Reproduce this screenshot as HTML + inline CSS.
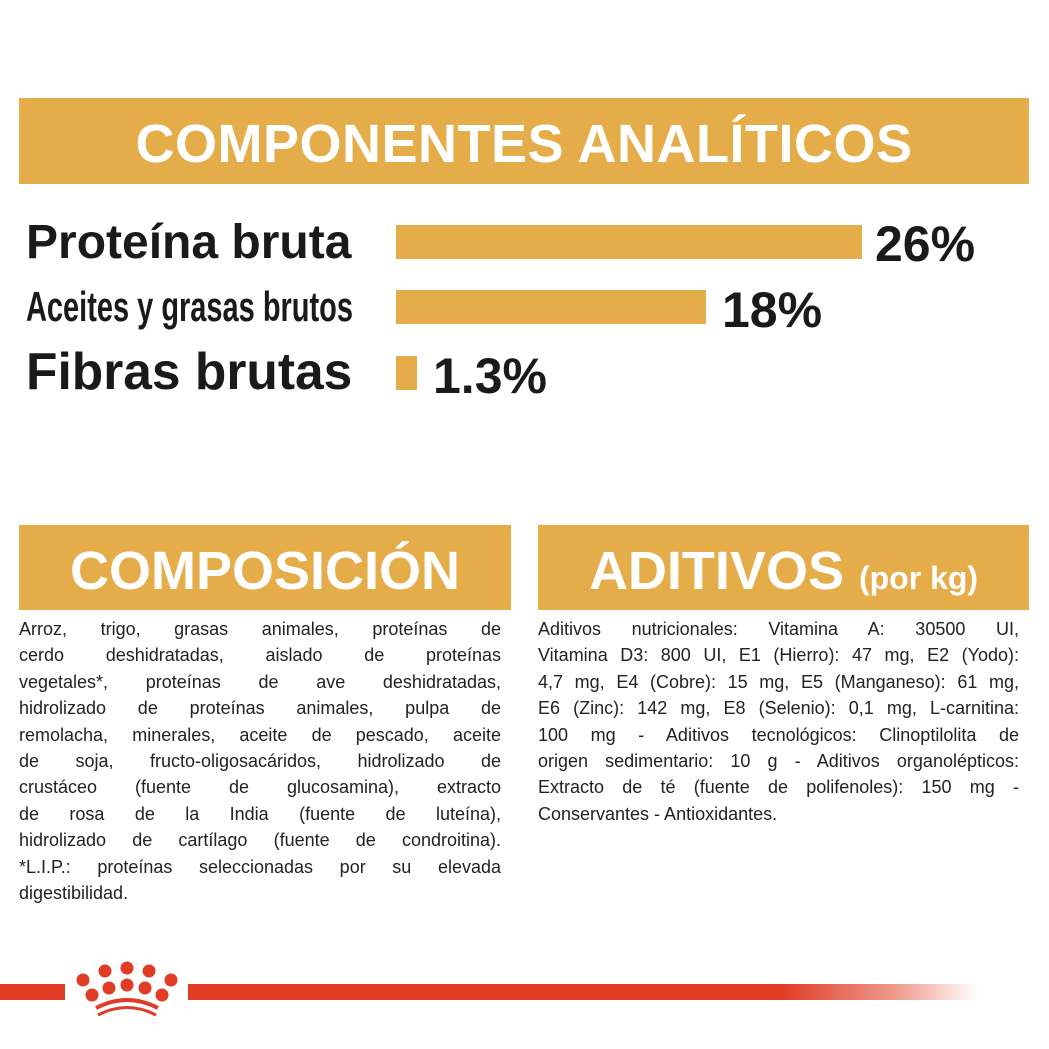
<!DOCTYPE html>
<html><head><meta charset="utf-8"><style>
body{margin:0;width:1049px;height:1049px;background:#fff;position:relative;overflow:hidden;font-family:"Liberation Sans",sans-serif;}
.a{position:absolute}
.hdr{background:#E5AD4A;color:#fff;font-weight:bold;text-align:center;}
.bar{background:#E5AD4A;position:absolute}
.lbl{position:absolute;font-weight:bold;color:#1a1a1a;white-space:nowrap;line-height:1}
.txt{position:absolute;font-size:18px;color:#222;line-height:26.4px}
.txt div{text-align:justify;text-align-last:justify;white-space:nowrap}
.txt div.l{text-align-last:left}
</style></head><body>
<div class="a hdr" style="left:19px;top:98px;width:1010px;height:86px;font-size:54px;line-height:92px;letter-spacing:0.5px">COMPONENTES ANALÍTICOS</div>
<div class="lbl" style="left:26px;top:219px;font-size:48px">Proteína bruta</div>
<div class="bar" style="left:396px;top:225px;width:466px;height:34px"></div>
<div class="lbl" style="left:875px;top:219px;font-size:50px">26%</div>
<div class="lbl" style="left:26px;top:286px;font-size:42px;transform:scaleX(0.69);transform-origin:left">Aceites y grasas brutos</div>
<div class="bar" style="left:396px;top:290px;width:310px;height:34px"></div>
<div class="lbl" style="left:722px;top:285px;font-size:50px">18%</div>
<div class="lbl" style="left:26px;top:346px;font-size:51.5px">Fibras brutas</div>
<div class="bar" style="left:396px;top:356px;width:21px;height:34px"></div>
<div class="lbl" style="left:433px;top:351px;font-size:50px">1.3%</div>

<div class="a hdr" style="left:19px;top:525px;width:492px;height:85px;font-size:54px;line-height:92px">COMPOSICIÓN</div>
<div class="a hdr" style="left:538px;top:525px;width:491px;height:85px;font-size:54px;line-height:92px">ADITIVOS <span style="font-size:32px">(por kg)</span></div>

<div class="txt" style="left:19px;top:616px;width:482px">
<div>Arroz, trigo, grasas animales, proteínas de</div>
<div>cerdo deshidratadas, aislado de proteínas</div>
<div>vegetales*, proteínas de ave deshidratadas,</div>
<div>hidrolizado de proteínas animales, pulpa de</div>
<div>remolacha, minerales, aceite de pescado, aceite</div>
<div>de soja, fructo-oligosacáridos, hidrolizado de</div>
<div>crustáceo (fuente de glucosamina), extracto</div>
<div>de rosa de la India (fuente de luteína),</div>
<div>hidrolizado de cartílago (fuente de condroitina).</div>
<div>*L.I.P.: proteínas seleccionadas por su elevada</div>
<div class="l">digestibilidad.</div>
</div>
<div class="txt" style="left:538px;top:616px;width:481px">
<div>Aditivos nutricionales: Vitamina A: 30500 UI,</div>
<div>Vitamina D3: 800 UI, E1 (Hierro): 47 mg, E2 (Yodo):</div>
<div>4,7 mg, E4 (Cobre): 15 mg, E5 (Manganeso): 61 mg,</div>
<div>E6 (Zinc): 142 mg, E8 (Selenio): 0,1 mg, L-carnitina:</div>
<div>100 mg - Aditivos tecnológicos: Clinoptilolita de</div>
<div>origen sedimentario: 10 g - Aditivos organolépticos:</div>
<div>Extracto de té (fuente de polifenoles): 150 mg -</div>
<div class="l">Conservantes - Antioxidantes.</div>
</div>

<div class="a" style="left:0;top:984px;width:65px;height:16px;background:#E03C26"></div>
<div class="a" style="left:188px;top:984px;width:790px;height:16px;background:linear-gradient(90deg,#E03C26 0%,#E03C26 75%,rgba(224,60,38,0.5) 90%,rgba(224,60,38,0) 100%)"></div>
<svg class="a" style="left:0;top:940px" width="260" height="100">
<g fill="#E03C26">
<circle cx="83" cy="40" r="6.5"/><circle cx="105" cy="31" r="6.5"/><circle cx="127" cy="28" r="6.5"/><circle cx="149" cy="31" r="6.5"/><circle cx="171" cy="40" r="6.5"/>
<circle cx="92" cy="55" r="6.5"/><circle cx="109" cy="48" r="6.5"/><circle cx="127" cy="45" r="6.5"/><circle cx="145" cy="48" r="6.5"/><circle cx="162" cy="55" r="6.5"/>
</g>
<path d="M96 68 Q127 52 158 68" stroke="#E03C26" stroke-width="4" fill="none"/>
<path d="M98 75 Q127 60 156 75" stroke="#E03C26" stroke-width="3" fill="none"/>
</svg>
</body></html>
